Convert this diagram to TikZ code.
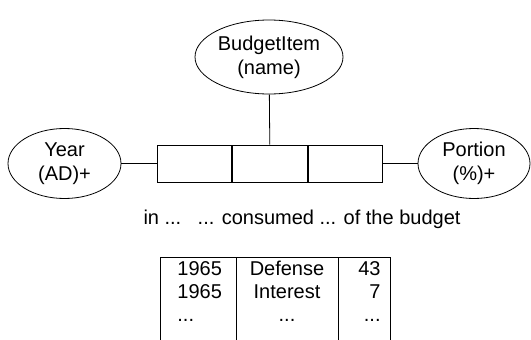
\documentclass[tikz,border=0pt]{standalone}
\usepackage{fontspec}
\setmainfont{Liberation Sans}
\usetikzlibrary{shapes.geometric}
\usetikzlibrary{positioning}

\begin{document}
\begin{tikzpicture}[x=1pt,y=-1pt,line width=0.8pt,
    attr node/.style={ellipse,draw,inner sep=0pt,align=center,font=\fontsize{20}{24}\selectfont},
    slot node/.style={rectangle,draw,minimum width=74.7pt,minimum height=37pt,inner sep=0pt},
    cell/.style={font=\fontsize{20}{23}\selectfont,inner sep=0pt}]
    \useasboundingbox (0,0) rectangle (531,340);
    \begin{scope}
      % relation slots
      \node[slot node] (s1) at (194.3,163.5) {};
      \node[slot node,right=0pt of s1] (s2) {};
      \node[slot node,right=0pt of s2] (s3) {};
      % attributes
      \node[attr node,minimum width=148pt,minimum height=74pt] (item) at (269,57) {BudgetItem\\(name)};
      \node[attr node,minimum width=113pt,minimum height=70pt] (year) at (64.5,163.5) {Year\\(AD)+};
      \node[attr node,minimum width=112pt,minimum height=70pt] (portion) at (474,163.5) {Portion\\(\%)+};
       \path[-] (year) edge (s1.west);
       \path[-] (item) edge (s2.north);
       \path[-] (s3.east) edge (portion);
      % reading
      \node[cell,anchor=base] (reading) at (302,224) {in ...\hspace{0.45em} ... consumed ... of the budget};
      % table
      \coordinate (t1) at (160,257);
      \coordinate (t2) at (236,257);
      \coordinate (t3) at (338,257);
      \coordinate (t4) at (390,257);
      \coordinate (b1) at (160,340);
      \coordinate (b2) at (236,340);
      \coordinate (b3) at (338,340);
      \coordinate (b4) at (390,340);
       \draw (b1) -- (t1) -- (t4) -- (b4);
       \draw (t2) -- (b2);
       \draw (t3) -- (b3);
      \node[cell,anchor=base west] (y1) at (177,275) {1965};
      \node[cell,anchor=base west] (y2) at (177,298) {1965};
      \node[cell,anchor=base west] (y3) at (177,321) {...};
      \node[cell,anchor=base] (n1) at (287,275) {Defense};
      \node[cell,anchor=base] (n2) at (287,298) {Interest};
      \node[cell,anchor=base] (n3) at (287,321) {...};
      \node[cell,anchor=base east] (p1) at (381,275) {43};
      \node[cell,anchor=base east] (p2) at (381,298) {7};
      \node[cell,anchor=base east] (p3) at (381,321) {...};
    \end{scope}
  \end{tikzpicture}
\end{document}
